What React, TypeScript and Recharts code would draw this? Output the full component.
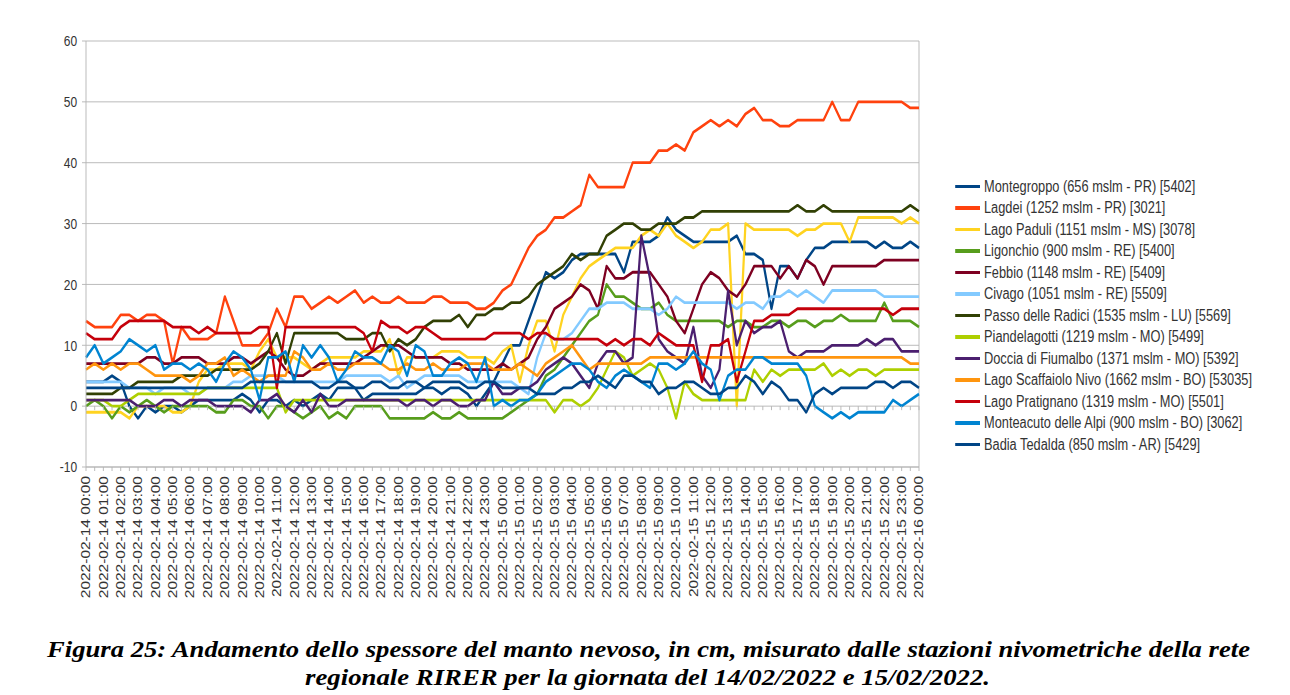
import React from 'react';
import { LineChart, Line, XAxis, YAxis, CartesianGrid, ReferenceLine } from 'recharts';

const hourLabels = [
  '2022-02-14 00:00', '2022-02-14 01:00', '2022-02-14 02:00', '2022-02-14 03:00', '2022-02-14 04:00',
  '2022-02-14 05:00', '2022-02-14 06:00', '2022-02-14 07:00', '2022-02-14 08:00', '2022-02-14 09:00',
  '2022-02-14 10:00', '2022-02-14 11:00', '2022-02-14 12:00', '2022-02-14 13:00', '2022-02-14 14:00',
  '2022-02-14 15:00', '2022-02-14 16:00', '2022-02-14 17:00', '2022-02-14 18:00', '2022-02-14 19:00',
  '2022-02-14 20:00', '2022-02-14 21:00', '2022-02-14 22:00', '2022-02-14 23:00', '2022-02-15 00:00',
  '2022-02-15 01:00', '2022-02-15 02:00', '2022-02-15 03:00', '2022-02-15 04:00', '2022-02-15 05:00',
  '2022-02-15 06:00', '2022-02-15 07:00', '2022-02-15 08:00', '2022-02-15 09:00', '2022-02-15 10:00',
  '2022-02-15 11:00', '2022-02-15 12:00', '2022-02-15 13:00', '2022-02-15 14:00', '2022-02-15 15:00',
  '2022-02-15 16:00', '2022-02-15 17:00', '2022-02-15 18:00', '2022-02-15 19:00', '2022-02-15 20:00',
  '2022-02-15 21:00', '2022-02-15 22:00', '2022-02-15 23:00', '2022-02-16 00:00',
];

const yTicks = [-10, 0, 10, 20, 30, 40, 50, 60];

const montegroppo = [
  4, 4, 4, 5, 4, 0, -2, 0, -1, 0,
  0, -1, 0, 1, 1, 1, 1, 1, 2, 1,
  -1, 1, 1, 0, 1, 0, 1, 2, 1, 3,
  3, 3, 1, 2, 2, 2, 2, 2, 2, 3,
  3, 2, 3, 3, 2, 0, 2, 4, 7, 10,
  10, 14, 18, 22, 21, 22, 24, 25, 25, 25,
  25, 25, 22, 27, 27, 27, 28, 31, 29, 28,
  27, 27, 27, 27, 27, 28, 25, 25, 24, 16,
  23, 23, 21, 24, 26, 26, 27, 27, 27, 27,
  27, 26, 27, 26, 26, 27, 26,
];
const lagdei = [
  14, 13, 13, 13, 15, 15, 14, 15, 15, 14,
  7, 13, 11, 11, 11, 12, 18, 14, 10, 10,
  10, 12, 16, 13, 18, 18, 16, 17, 18, 17,
  18, 19, 17, 18, 17, 17, 18, 17, 17, 17,
  18, 18, 17, 17, 17, 16, 16, 17, 19, 20,
  23, 26, 28, 29, 31, 31, 32, 33, 38, 36,
  36, 36, 36, 40, 40, 40, 42, 42, 43, 42,
  45, 46, 47, 46, 47, 46, 48, 49, 47, 47,
  46, 46, 47, 47, 47, 47, 50, 47, 47, 50,
  50, 50, 50, 50, 50, 49, 49,
];
const lagoPaduli = [
  -1, -1, -1, -1, -1, -2, 0, 0, 0, 0,
  -1, -1, 0, 4, 6, 6, 7, 7, 7, 6,
  9, 11, 8, 8, 8, 7, 6, 7, 8, 8,
  8, 8, 9, 9, 9, 11, 5, 8, 8, 8,
  8, 9, 9, 9, 8, 8, 8, 7, 9, 10,
  4, 10, 14, 14, 9, 15, 18, 21, 23, 24,
  25, 26, 26, 26, 28, 29, 28, 30, 28, 27,
  26, 27, 29, 29, 30, 0, 30, 29, 29, 29,
  29, 29, 28, 29, 29, 30, 30, 30, 27, 31,
  31, 31, 31, 31, 30, 31, 30,
];
const ligonchio = [
  0, 1, 0, -2, 0, -1, 0, 1, 0, -1,
  0, 0, 0, 0, 0, -1, -1, 1, 1, 0,
  0, -2, 0, 0, -1, -2, -1, 0, -2, -1,
  -2, 0, 0, 0, 0, -2, -2, -2, -2, -2,
  -1, -2, -2, -1, -2, -2, -2, -2, -2, -1,
  0, 1, 2, 5, 6, 8, 10, 12, 14, 15,
  20, 18, 18, 17, 16, 16, 17, 15, 14, 14,
  14, 14, 14, 14, 13, 14, 14, 13, 13, 14,
  14, 13, 14, 14, 13, 14, 14, 15, 14, 14,
  14, 14, 17, 14, 14, 14, 13,
];
const febbio = [
  7, 7, 7, 7, 7, 7, 7, 8, 8, 7,
  7, 8, 8, 8, 7, 7, 7, 8, 8, 7,
  8, 9, 8, 6, 5, 5, 6, 7, 7, 7,
  7, 7, 8, 9, 10, 10, 10, 9, 8, 8,
  8, 8, 7, 7, 6, 6, 6, 6, 7, 6,
  7, 8, 11, 13, 16, 17, 18, 20, 19, 16,
  23, 21, 21, 22, 22, 22, 20, 18, 14, 12,
  16, 20, 22, 21, 19, 18, 20, 23, 23, 23,
  21, 23, 21, 24, 23, 20, 23, 23, 23, 23,
  23, 23, 24, 24, 24, 24, 24,
];
const civago = [
  4, 4, 4, 4, 4, 3, 3, 3, 2, 3,
  3, 3, 2, 2, 3, 3, 3, 4, 4, 5,
  5, 5, 5, 4, 4, 4, 4, 4, 4, 4,
  5, 5, 5, 5, 5, 4, 5, 3, 4, 5,
  5, 5, 5, 5, 4, 4, 4, 4, 4, 4,
  3, 2, 8, 12, 11, 11, 12, 14, 16, 16,
  17, 17, 17, 16, 16, 16, 15, 16, 18, 17,
  17, 17, 17, 17, 17, 16, 17, 17, 16, 18,
  18, 19, 18, 19, 18, 17, 19, 19, 19, 19,
  19, 19, 18, 18, 18, 18, 18,
];
const passoRadici = [
  2, 2, 2, 2, 3, 3, 4, 4, 4, 4,
  4, 5, 5, 5, 5, 6, 6, 6, 6, 6,
  7, 9, 12, 7, 12, 12, 12, 12, 12, 12,
  11, 11, 11, 12, 12, 9, 11, 10, 11, 13,
  14, 14, 14, 15, 13, 15, 15, 16, 16, 17,
  17, 18, 20, 21, 22, 23, 25, 24, 25, 25,
  28, 29, 30, 30, 29, 29, 30, 30, 30, 31,
  31, 32, 32, 32, 32, 32, 32, 32, 32, 32,
  32, 32, 33, 32, 32, 33, 32, 32, 32, 32,
  32, 32, 32, 32, 32, 33, 32,
];
const piandelagotti = [
  1, 1, 1, 0, 0, 1, 2, 2, 2, 2,
  2, 2, 2, 2, 3, 3, 3, 3, 3, 3,
  3, 3, 3, -1, 1, 1, 1, 1, 1, 1,
  1, 1, 1, 1, 1, 1, 1, 1, 1, 1,
  1, 1, 1, 1, 1, 1, 1, 1, 1, 1,
  1, 1, 1, 1, -1, 1, 1, 0, 1, 3,
  6, 9, 8, 5, 6, 7, 6, 3, -2, 4,
  2, 1, 1, 1, 1, 1, 1, 6, 4, 6,
  5, 6, 6, 6, 6, 7, 5, 6, 5, 6,
  6, 5, 6, 6, 6, 6, 6,
];
const docciaFiumalbo = [
  1, 1, 1, 1, 1, 1, 0, 0, 0, 1,
  1, 0, 1, 1, 1, 0, 0, 0, 0, -1,
  1, 1, 2, 0, -1, 1, -1, 2, 0, 0,
  1, 1, 1, 1, 1, 1, 1, 0, 1, 1,
  0, 1, 1, 0, 0, 1, 1, 4, 2, 2,
  3, 3, 4, 6, 7, 8, 7, 5, 3, 7,
  9, 9, 7, 8, 28, 21, 11, 9, 8, 7,
  13, 5, 3, 6, 19, 10, 14, 12, 13, 13,
  14, 9, 8, 9, 9, 9, 10, 10, 10, 10,
  11, 10, 11, 11, 9, 9, 9,
];
const scaffaioloNivo = [
  6, 7, 6, 7, 6, 7, 7, 6, 5, 5,
  5, 5, 4, 5, 7, 7, 8, 5, 6, 5,
  4, 5, 5, 5, 9, 8, 6, 6, 7, 6,
  6, 7, 7, 7, 7, 6, 6, 7, 6, 6,
  7, 6, 6, 6, 7, 7, 7, 6, 6, 6,
  7, 6, 5, 7, 8, 9, 10, 8, 6, 7,
  7, 7, 7, 7, 7, 8, 8, 8, 8, 8,
  8, 8, 8, 8, 8, 8, 8, 8, 8, 8,
  8, 8, 8, 8, 8, 8, 8, 8, 8, 8,
  8, 8, 8, 8, 8, 7, 7,
];
const pratignano = [
  12, 11, 11, 11, 13, 14, 14, 14, 14, 14,
  13, 13, 13, 12, 13, 12, 12, 12, 12, 12,
  13, 13, 3, 13, 13, 13, 13, 13, 13, 13,
  13, 13, 12, 9, 14, 13, 13, 12, 13, 13,
  12, 11, 11, 11, 11, 11, 11, 12, 12, 12,
  12, 11, 12, 12, 11, 11, 11, 11, 11, 11,
  10, 11, 10, 11, 11, 10, 12, 11, 10, 10,
  10, 4, 10, 10, 11, 4, 9, 14, 14, 15,
  15, 15, 16, 16, 16, 16, 16, 16, 16, 16,
  16, 16, 16, 15, 16, 16, 16,
];
const monteacuto = [
  8, 10, 7, 8, 9, 11, 10, 9, 10, 6,
  7, 7, 6, 7, 6, 4, 7, 9, 8, 6,
  1, 8, 8, 9, 4, 10, 8, 10, 8, 4,
  6, 9, 8, 8, 7, 10, 9, 5, 10, 9,
  5, 5, 7, 8, 7, 4, 8, 0, 1, 0,
  1, 1, 2, 4, 5, 6, 7, 7, 6, 4,
  3, 5, 6, 5, 4, 3, 7, 7, 6, 7,
  9, 7, 6, 1, 5, 6, 6, 8, 8, 7,
  7, 7, 7, 5, 0, -1, -2, -1, -2, -1,
  -1, -1, -1, 1, 0, 1, 2,
];
const badiaTedalda = [
  3, 3, 3, 3, 3, 3, 3, 3, 3, 3,
  3, 3, 3, 3, 3, 3, 3, 3, 3, 4,
  4, 4, 4, 4, 4, 4, 4, 3, 3, 4,
  4, 3, 3, 4, 4, 3, 3, 4, 4, 3,
  4, 4, 4, 4, 3, 3, 4, 4, 3, 3,
  3, 3, 2, 2, 2, 3, 3, 4, 4, 5,
  4, 3, 5, 5, 4, 4, 2, 3, 3, 4,
  4, 3, 2, 2, 3, 3, 5, 4, 2, 4,
  3, 1, 1, -1, 2, 3, 2, 3, 3, 3,
  3, 4, 4, 3, 4, 4, 3,
];

const seriesNames = [
  'Montegroppo (656 mslm - PR) [5402]',
  'Lagdei (1252 mslm - PR) [3021]',
  'Lago Paduli (1151 mslm - MS) [3078]',
  'Ligonchio (900 mslm - RE) [5400]',
  'Febbio (1148 mslm - RE) [5409]',
  'Civago (1051 mslm - RE) [5509]',
  'Passo delle Radici (1535 mslm - LU) [5569]',
  'Piandelagotti (1219 mslm - MO) [5499]',
  'Doccia di Fiumalbo (1371 mslm - MO) [5392]',
  'Lago Scaffaiolo Nivo (1662 mslm - BO) [53035]',
  'Lago Pratignano (1319 mslm - MO) [5501]',
  'Monteacuto delle Alpi (900 mslm - BO) [3062]',
  'Badia Tedalda (850 mslm - AR) [5429]',
];
const seriesColors = [
  '#004586', '#ff420e', '#ffd320', '#579d1c', '#7e0021', '#83caff', '#314004',
  '#aecf00', '#4b1f6f', '#ff950e', '#c5000b', '#0084d1', '#004586',
];
const seriesValues = [
  montegroppo, lagdei, lagoPaduli, ligonchio, febbio, civago, passoRadici,
  piandelagotti, docciaFiumalbo, scaffaioloNivo, pratignano, monteacuto, badiaTedalda,
];

const categories: string[] = [];
hourLabels.forEach((h, k) => {
  categories.push(h);
  if (k < hourLabels.length - 1) categories.push(h.replace(':00', ':30'));
});

const data = categories.map((t, i) => {
  const row: Record<string, any> = { t, zero: 0 };
  seriesValues.forEach((vals, s) => {
    row['s' + s] = vals[i];
  });
  return row;
});

const SQ = 0.8;
const FONT = '"Liberation Sans", Arial, sans-serif';
const SERIF = '"Liberation Serif", "Times New Roman", Times, serif';
const GRID = '#b3b3b3';

const XTick = (props: any) => {
  const { x, y, payload } = props;
  const v: string = payload && payload.value;
  if (!v || !v.endsWith(':00')) return <g />;
  return (
    <text
      x={x}
      y={y}
      dy="0.35em"
      textAnchor="end"
      transform={`rotate(-90 ${x} ${y})`}
      fontSize={15.5}
      fill="#333"
      fontFamily={FONT}
    >
      {v}
    </text>
  );
};

const YTick = (props: any) => {
  const { x, y, payload } = props;
  return (
    <text x={x} y={y} dy="0.355em" textAnchor="end" fontSize={15} fill="#333" fontFamily={FONT}>
      {payload.value}
    </text>
  );
};

const ZeroTick = (p: any) => {
  if (p.cx == null || p.cy == null) return <g key={p.index} />;
  return <line key={p.index} x1={p.cx} x2={p.cx} y1={p.cy} y2={p.cy + 4} stroke={GRID} strokeWidth={1} />;
};

export default function App() {
  return (
    <div style={{ position: 'absolute', left: 0, top: 0, width: 1290, height: 695, background: '#fff', overflow: 'hidden' }}>
      <div
        style={{
          position: 'absolute',
          left: 0,
          top: 0,
          width: 1290 / SQ,
          height: 630,
          transform: `scaleX(${SQ})`,
          transformOrigin: '0 0',
        }}
      >
        <LineChart width={1170} height={620} data={data} margin={{ top: 41, right: 21.25, left: 47.5, bottom: 13 }}>
          <CartesianGrid vertical={false} stroke={GRID} strokeWidth={1} />
          <XAxis
            dataKey="t"
            interval={0}
            height={140}
            tickSize={4}
            tickMargin={5}
            axisLine={{ stroke: GRID }}
            tickLine={{ stroke: GRID }}
            tick={<XTick />}
          />
          <YAxis
            domain={[-10, 60]}
            ticks={yTicks}
            width={60}
            tickSize={5}
            tickMargin={6}
            axisLine={{ stroke: GRID }}
            tickLine={{ stroke: GRID }}
            tick={<YTick />}
            allowDataOverflow
          />
          <ReferenceLine x={categories[categories.length - 1]} stroke={GRID} strokeWidth={1} />
          <Line
            dataKey="zero"
            stroke="transparent"
            strokeWidth={0}
            dot={(p: any) => <ZeroTick key={p.index} {...p} />}
            activeDot={false}
            isAnimationActive={false}
            legendType="none"
          />
          {seriesValues.map((_, s) => (
            <Line
              key={s}
              type="linear"
              dataKey={'s' + s}
              name={seriesNames[s]}
              stroke={seriesColors[s]}
              strokeWidth={2.8}
              strokeLinejoin="round"
              dot={false}
              activeDot={false}
              isAnimationActive={false}
            />
          ))}
        </LineChart>
        {seriesNames.map((n, s) => (
          <div
            key={n}
            style={{
              position: 'absolute',
              left: 1193.75,
              top: 186.5 + 21.5 * s - 10,
              height: 20,
              display: 'flex',
              alignItems: 'center',
              whiteSpace: 'nowrap',
            }}
          >
            <div style={{ width: 31.25, height: 3.5, background: seriesColors[s], marginRight: 5 }} />
            <span style={{ fontFamily: FONT, fontSize: 16, color: '#333', lineHeight: '20px' }}>{n}</span>
          </div>
        ))}
      </div>
      <svg width={1290} height={695} style={{ position: 'absolute', left: 0, top: 0, pointerEvents: 'none' }}>
        <text
          x={648.5}
          y={657}
          textAnchor="middle"
          fontFamily={SERIF}
          fontWeight="bold"
          fontStyle="italic"
          fontSize={23}
          fill="#000"
          textLength={1203}
          lengthAdjust="spacingAndGlyphs"
        >
          Figura 25: Andamento dello spessore del manto nevoso, in cm, misurato dalle stazioni nivometriche della rete
        </text>
        <text
          x={647.5}
          y={685}
          textAnchor="middle"
          fontFamily={SERIF}
          fontWeight="bold"
          fontStyle="italic"
          fontSize={23}
          fill="#000"
          textLength={685}
          lengthAdjust="spacingAndGlyphs"
        >
          regionale RIRER per la giornata del 14/02/2022 e 15/02/2022.
        </text>
      </svg>
    </div>
  );
}
